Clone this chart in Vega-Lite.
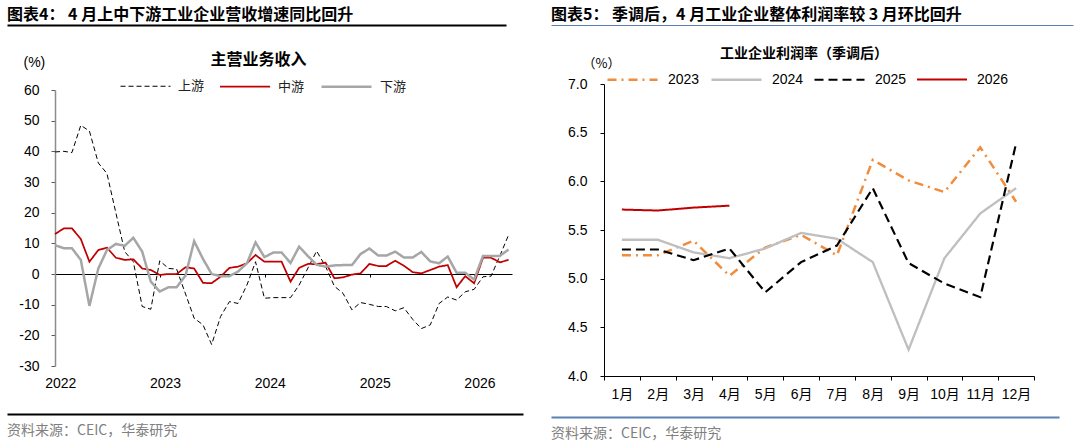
{
  "$schema": "https://vega.github.io/schema/vega-lite/v6.json",
  "background": "white",
  "padding": {"left": 7, "top": 7, "right": 0, "bottom": 0},
  "config": {
    "view": {"stroke": null},
    "font": "Liberation Sans",
    "axis": {"grid": false, "labelColor": "#000", "labelFont": "Liberation Sans"},
    "locale": {"number": {"decimal": ".", "thousands": ",", "grouping": [3], "currency": ["$", ""], "minus": "-"}}
  },
  "datasets": {
    "left": [
      {"d":"2021-12-31","上游":39.8,"中游":13.0,"下游":9.4},
      {"d":"2022-01-31","上游":40.0,"中游":14.9,"下游":8.4},
      {"d":"2022-02-28","上游":39.6,"中游":14.9,"下游":8.4},
      {"d":"2022-03-31","上游":48.5,"中游":11.4,"下游":4.6},
      {"d":"2022-04-30","上游":46.6,"中游":4.0,"下游":-10.4},
      {"d":"2022-05-31","上游":36.2,"中游":7.8,"下游":1.8},
      {"d":"2022-06-30","上游":32.8,"中游":8.6,"下游":7.8},
      {"d":"2022-07-31","上游":20.0,"中游":5.3,"下游":9.8},
      {"d":"2022-08-31","上游":7.3,"中游":4.6,"下游":9.2},
      {"d":"2022-09-30","上游":4.0,"中游":4.8,"下游":11.8},
      {"d":"2022-10-31","上游":-10.6,"中游":1.8,"下游":7.3},
      {"d":"2022-11-30","上游":-11.5,"中游":1.3,"下游":-2.5},
      {"d":"2022-12-31","上游":4.3,"中游":-0.3,"下游":-5.7},
      {"d":"2023-01-31","上游":1.8,"中游":0.0,"下游":-4.3},
      {"d":"2023-02-28","上游":1.6,"中游":0.0,"下游":-4.3},
      {"d":"2023-03-31","上游":-6.5,"中游":2.2,"下游":-0.5},
      {"d":"2023-04-30","上游":-14.4,"中游":1.8,"下游":10.7},
      {"d":"2023-05-31","上游":-16.6,"中游":-2.9,"下游":4.9},
      {"d":"2023-06-30","上游":-23.0,"中游":-3.0,"下游":0.0},
      {"d":"2023-07-31","上游":-13.9,"中游":-0.9,"下游":-0.7},
      {"d":"2023-08-31","上游":-9.0,"中游":2.0,"下游":-0.7},
      {"d":"2023-09-30","上游":-9.6,"中游":2.4,"下游":0.8},
      {"d":"2023-10-31","上游":-3.6,"中游":3.5,"下游":3.5},
      {"d":"2023-11-30","上游":4.0,"中游":6.2,"下游":10.3},
      {"d":"2023-12-31","上游":-7.9,"中游":4.0,"下游":5.5},
      {"d":"2024-01-31","上游":-7.7,"中游":4.0,"下游":7.0},
      {"d":"2024-02-29","上游":-7.7,"中游":4.0,"下游":7.0},
      {"d":"2024-03-31","上游":-7.7,"中游":-2.5,"下游":3.6},
      {"d":"2024-04-30","上游":-3.6,"中游":2.0,"下游":8.9},
      {"d":"2024-05-31","上游":2.0,"中游":3.3,"下游":5.8},
      {"d":"2024-06-30","上游":7.5,"中游":3.2,"下游":3.0},
      {"d":"2024-07-31","上游":2.5,"中游":3.7,"下游":2.4},
      {"d":"2024-08-31","上游":-4.0,"中游":-1.4,"下游":2.8},
      {"d":"2024-09-30","上游":-6.3,"中游":-1.1,"下游":2.9},
      {"d":"2024-10-31","上游":-11.7,"中游":-0.2,"下游":2.9},
      {"d":"2024-11-30","上游":-9.3,"中游":0.2,"下游":6.5},
      {"d":"2024-12-31","上游":-9.9,"中游":3.3,"下游":8.3},
      {"d":"2025-01-31","上游":-10.6,"中游":2.6,"下游":6.0},
      {"d":"2025-02-28","上游":-10.6,"中游":2.6,"下游":6.0},
      {"d":"2025-03-31","上游":-12.0,"中游":4.3,"下游":7.3},
      {"d":"2025-04-30","上游":-11.0,"中游":2.7,"下游":5.4},
      {"d":"2025-05-31","上游":-14.8,"中游":0.6,"下游":5.4},
      {"d":"2025-06-30","上游":-17.8,"中游":0.2,"下游":7.2},
      {"d":"2025-07-31","上游":-16.6,"中游":1.3,"下游":4.1},
      {"d":"2025-08-31","上游":-9.6,"中游":2.4,"下游":3.5},
      {"d":"2025-09-30","上游":-7.5,"中游":2.9,"下游":5.7},
      {"d":"2025-10-31","上游":-8.5,"中游":-4.3,"下游":0.4},
      {"d":"2025-11-30","上游":-5.8,"中游":-0.7,"下游":0.4},
      {"d":"2025-12-31","上游":-5.0,"中游":-3.0,"下游":-1.8},
      {"d":"2026-01-31","上游":-0.9,"中游":5.3,"下游":5.9},
      {"d":"2026-02-28","上游":-0.7,"中游":5.3,"下游":5.9},
      {"d":"2026-03-31","上游":6.0,"中游":3.8,"下游":5.9},
      {"d":"2026-04-30","上游":12.7,"中游":4.6,"下游":8.0}
    ],
    "right": [
      {"yr":"2023","m":"1月","v":5.24},{"yr":"2023","m":"2月","v":5.24},{"yr":"2023","m":"3月","v":5.39},{"yr":"2023","m":"4月","v":5.03},
      {"yr":"2023","m":"5月","v":5.32},{"yr":"2023","m":"6月","v":5.45},{"yr":"2023","m":"7月","v":5.24},{"yr":"2023","m":"8月","v":6.22},
      {"yr":"2023","m":"9月","v":6.01},{"yr":"2023","m":"10月","v":5.89},{"yr":"2023","m":"11月","v":6.35},{"yr":"2023","m":"12月","v":5.79},
      {"yr":"2024","m":"1月","v":5.40},{"yr":"2024","m":"2月","v":5.40},{"yr":"2024","m":"3月","v":5.27},{"yr":"2024","m":"4月","v":5.21},
      {"yr":"2024","m":"5月","v":5.31},{"yr":"2024","m":"6月","v":5.47},{"yr":"2024","m":"7月","v":5.41},{"yr":"2024","m":"8月","v":5.17},
      {"yr":"2024","m":"9月","v":4.27},{"yr":"2024","m":"10月","v":5.21},{"yr":"2024","m":"11月","v":5.67},{"yr":"2024","m":"12月","v":5.93},
      {"yr":"2025","m":"1月","v":5.30},{"yr":"2025","m":"2月","v":5.30},{"yr":"2025","m":"3月","v":5.19},{"yr":"2025","m":"4月","v":5.31},
      {"yr":"2025","m":"5月","v":4.86},{"yr":"2025","m":"6月","v":5.17},{"yr":"2025","m":"7月","v":5.34},{"yr":"2025","m":"8月","v":5.93},
      {"yr":"2025","m":"9月","v":5.16},{"yr":"2025","m":"10月","v":4.95},{"yr":"2025","m":"11月","v":4.81},{"yr":"2025","m":"12月","v":6.39},
      {"yr":"2026","m":"1月","v":5.71},{"yr":"2026","m":"2月","v":5.70},{"yr":"2026","m":"3月","v":5.73},{"yr":"2026","m":"4月","v":5.75}
    ]
  },
  "columns": 2,
  "align": "none",
  "spacing": -20,
  "resolve": {
    "scale": {"color": "independent", "strokeDash": "independent", "strokeWidth": "independent"},
    "legend": {"color": "independent", "strokeDash": "independent", "strokeWidth": "independent"}
  },
  "concat": [
    {
      "columns": 1,
      "spacing": 27,
      "resolve": {"legend": {"color": "independent", "strokeDash": "independent", "strokeWidth": "independent"}},
      "concat": [
        {
          "width": 451, "height": 1,
          "data": {"values": []},
          "mark": "point",
          "encoding": {"x": {"field": "a", "type": "quantitative", "scale": {"domain": [0, 1], "range": [-48, 451]}, "axis": {"orient": "bottom", "domain": true, "domainColor": "#000", "domainWidth": 2, "ticks": false, "labels": false, "title": null, "grid": false}}},
          "title": {"text": "图表4： 4 月上中下游工业企业营收增速同比回升", "anchor": "start", "frame": "group", "dx": -48, "font": "Noto Sans CJK SC", "fontSize": 16, "fontWeight": "bold", "color": "#000", "baseline": "alphabetic", "offset": -12}
        },
        {
          "columns": 1,
          "spacing": 23,
          "resolve": {"legend": {"color": "independent", "strokeDash": "independent", "strokeWidth": "independent"}},
          "concat": [
            {
              "width": 457, "height": 276,
              "data": {"name": "left"},
              "transform": [{"fold": ["上游", "中游", "下游"], "as": ["s", "v"]}],
              "title": {"text": "主营业务收入", "anchor": "middle", "frame": "group", "dx": -25, "font": "Noto Sans CJK SC", "fontSize": 16, "fontWeight": "bold", "color": "#000", "baseline": "alphabetic", "offset": -26},
              "mark": {"type": "line", "strokeJoin": "miter"},
              "encoding": {
                "x": {
                  "field": "d", "type": "temporal",
                  "scale": {"type": "utc", "domain": [{"year": 2021, "month": 12, "date": 31, "utc": true}, {"year": 2026, "month": 5, "date": 12, "utc": true}]},
                  "axis": {"orient": "bottom", "offset": -92, "title": null, "format": "%Y", "tickCount": {"interval": "year", "step": 1}, "domainColor": "#000", "domainWidth": 1, "tickColor": "#000", "tickSize": 3, "labelPadding": 99, "labelOffset": 5, "labelFlush": false, "labelOverlap": false, "labelFontSize": 14, "labelColor": "#000"}
                },
                "y": {
                  "field": "v", "type": "quantitative",
                  "scale": {"domain": [-30, 60], "nice": false},
                  "axis": {"title": "(%)", "titleX": -32, "titleY": -28, "titleAngle": 0, "titleAlign": "left", "titleBaseline": "middle", "titleFont": "Liberation Sans", "titleFontSize": 14, "titleFontWeight": "normal", "titleColor": "#000", "values": [-30, -20, -10, 0, 10, 20, 30, 40, 50, 60], "domainColor": "#8c8c8c", "domainWidth": 1.5, "tickColor": "#595959", "tickSize": 4, "labelPadding": 12, "labelFontSize": 14, "labelColor": "#000", "minExtent": 48, "maxExtent": 48}
                },
                "color": {
                  "field": "s", "type": "nominal",
                  "scale": {"domain": ["上游", "中游", "下游"], "range": ["#000000", "#C00000", "#A6A6A6"]},
                  "legend": {"orient": "none", "legendX": 65, "legendY": -30, "direction": "horizontal", "title": null, "symbolType": "stroke", "symbolSize": 2500, "labelFont": "Noto Sans CJK SC", "labelFontSize": 13, "labelColor": "#222", "labelOffset": 7, "columnPadding": 11, "padding": 0}
                },
                "strokeDash": {"field": "s", "type": "nominal", "scale": {"domain": ["上游", "中游", "下游"], "range": [[5, 3], [1, 0], [1, 0]]}},
                "strokeWidth": {"field": "s", "type": "nominal", "scale": {"domain": ["上游", "中游", "下游"], "range": [1, 2.5, 2.5]}}
              }
            },
            {
              "width": 468, "height": 1,
              "data": {"values": []},
              "mark": "point",
              "encoding": {"x": {"field": "a", "type": "quantitative", "scale": {"domain": [0, 1], "range": [-48, 468]}, "axis": {"orient": "bottom", "domain": true, "domainColor": "#000", "domainWidth": 2, "ticks": false, "labels": false, "title": null, "grid": false}}},
              "title": {"text": "资料来源：CEIC，华泰研究", "orient": "bottom", "anchor": "start", "frame": "group", "dx": -48, "font": "Noto Sans CJK SC", "fontSize": 14, "fontWeight": "normal", "color": "#808080", "baseline": "alphabetic", "offset": 21}
            }
          ]
        }
      ]
    },
    {
      "columns": 1,
      "spacing": 22,
      "resolve": {"legend": {"color": "independent", "strokeDash": "independent", "strokeWidth": "independent"}},
      "concat": [
        {
          "width": 469, "height": 1,
          "data": {"values": []},
          "mark": "point",
          "encoding": {"x": {"field": "a", "type": "quantitative", "scale": {"domain": [0, 1], "range": [-53, 469]}, "axis": {"orient": "bottom", "domain": true, "domainColor": "#5B80B2", "domainWidth": 1, "ticks": false, "labels": false, "title": null, "grid": false}}},
          "title": {"text": "图表5： 季调后，4 月工业企业整体利润率较 3 月环比回升", "anchor": "start", "frame": "group", "dx": -53, "font": "Noto Sans CJK SC", "fontSize": 16, "fontWeight": "bold", "color": "#000", "baseline": "alphabetic", "offset": -12}
        },
        {
          "columns": 1,
          "spacing": 15,
          "resolve": {"legend": {"color": "independent", "strokeDash": "independent", "strokeWidth": "independent"}},
          "concat": [
            {
              "width": 430, "height": 292,
              "data": {"name": "right"},
              "title": {"text": "工业企业利润率（季调后）", "anchor": "middle", "frame": "group", "dx": -15, "font": "Noto Sans CJK SC", "fontSize": 14, "fontWeight": "bold", "color": "#000", "baseline": "alphabetic", "offset": -19},
              "mark": {"type": "line", "strokeJoin": "miter"},
              "encoding": {
                "x": {
                  "field": "m", "type": "nominal", "sort": null, "bandPosition": 0.5,
                  "scale": {"type": "band", "domain": ["1月", "2月", "3月", "4月", "5月", "6月", "7月", "8月", "9月", "10月", "11月", "12月"], "paddingInner": 0, "paddingOuter": 0},
                  "axis": {"title": null, "labelAngle": 0, "tickBand": "extent", "domainColor": "#000", "tickColor": "#000", "tickSize": 4, "labelPadding": 7, "labelFont": "Liberation Sans, Noto Sans CJK SC", "labelFontSize": 14, "labelColor": "#000"}
                },
                "y": {
                  "field": "v", "type": "quantitative",
                  "scale": {"domain": [4, 7], "nice": false, "zero": false},
                  "axis": {"title": "（%）", "titleX": -22, "titleY": -21, "titleAngle": 0, "titleAlign": "left", "titleBaseline": "middle", "titleFont": "Noto Sans CJK SC", "titleFontSize": 13, "titleFontWeight": "normal", "titleColor": "#000", "values": [4, 4.5, 5, 5.5, 6, 6.5, 7], "format": ".1f", "domainColor": "#000", "tickColor": "#000", "tickSize": 4, "labelPadding": 13, "labelFontSize": 14, "labelColor": "#000", "minExtent": 53, "maxExtent": 53}
                },
                "color": {
                  "field": "yr", "type": "nominal",
                  "scale": {"domain": ["2023", "2024", "2025", "2026"], "range": ["#F08C3C", "#BFBFBF", "#000000", "#C00000"]},
                  "legend": {"orient": "none", "legendX": 2, "legendY": -31, "direction": "horizontal", "title": null, "symbolType": "stroke", "symbolSize": 2500, "labelFont": "Liberation Sans", "labelFontSize": 14, "labelColor": "#000", "labelOffset": 9, "columnPadding": 6, "padding": 0}
                },
                "strokeDash": {"field": "yr", "type": "nominal", "scale": {"domain": ["2023", "2024", "2025", "2026"], "range": [[9, 5, 2, 5], [1, 0], [9, 5], [1, 0]]}},
                "strokeWidth": {"field": "yr", "type": "nominal", "scale": {"domain": ["2023", "2024", "2025", "2026"], "range": [2.5, 2, 1.5, 2]}}
              }
            },
            {
              "width": 455, "height": 1,
              "data": {"values": []},
              "mark": "point",
              "encoding": {"x": {"field": "a", "type": "quantitative", "scale": {"domain": [0, 1], "range": [-53, 455]}, "axis": {"orient": "bottom", "domain": true, "domainColor": "#5B80B2", "domainWidth": 2, "ticks": false, "labels": false, "title": null, "grid": false}}},
              "title": {"text": "资料来源：CEIC，华泰研究", "orient": "bottom", "anchor": "start", "frame": "group", "dx": -53, "font": "Noto Sans CJK SC", "fontSize": 14, "fontWeight": "normal", "color": "#808080", "baseline": "alphabetic", "offset": 21}
            }
          ]
        }
      ]
    }
  ]
}
